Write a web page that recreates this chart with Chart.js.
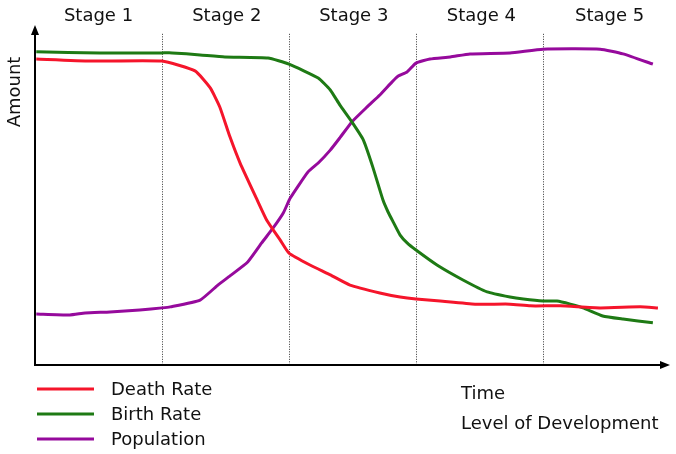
<!DOCTYPE html>
<html>
<head>
<meta charset="utf-8">
<script src="https://cdn.jsdelivr.net/npm/chart.js@4.4.1/dist/chart.umd.min.js"></script>
<style>
html,body{margin:0;padding:0;background:#fff;}
#wrap{width:676px;height:454px;position:relative;}
</style>
</head>
<body>
<div id="wrap"><canvas id="c" width="676" height="454"></canvas></div>
<script>
// Time axis (0-100), stage boundaries at 20/40/60/80
const stageLabels = ['Stage 1', 'Stage 2', 'Stage 3', 'Stage 4', 'Stage 5'];
const stageCenters = [10, 30.2, 50.2, 70.3, 90.5];
const stageBounds = [20, 40, 60, 80];

const deathTime = [0.2, 8.7, 20.0, 25.2, 27.6, 29.1, 30.7, 32.3, 35.0, 36.5, 38.6, 40.0, 43.3, 46.5, 49.6, 54.3, 57.5, 60.0, 63.8, 69.3, 74.8, 78.0, 82.7, 89.0, 95.3, 98.1];
const deathRate = [90.0, 89.4, 89.4, 86.5, 81.5, 75.9, 67.1, 59.4, 48.5, 42.6, 36.8, 32.9, 29.4, 26.5, 23.5, 21.2, 20.0, 19.4, 18.8, 17.9, 17.9, 17.4, 17.4, 16.8, 17.1, 16.8];

const birthTime = [0.2, 10.2, 20.0, 21.6, 26.0, 29.9, 36.7, 40.0, 44.6, 46.5, 48.0, 49.9, 51.7, 53.2, 54.8, 55.6, 56.4, 57.5, 58.6, 60.0, 63.3, 67.4, 71.2, 74.8, 76.9, 80.0, 82.2, 84.3, 86.3, 89.4, 92.6, 97.3];
const birthRate = [92.1, 91.8, 91.8, 91.8, 91.2, 90.6, 90.3, 88.5, 84.4, 80.9, 76.5, 71.5, 66.2, 58.2, 48.5, 45.0, 42.1, 38.2, 35.9, 33.8, 29.4, 25.0, 21.5, 20.0, 19.4, 18.8, 18.8, 17.9, 16.8, 14.4, 13.5, 12.4];

const popTime = [0.2, 5.5, 7.9, 11.8, 16.5, 20.0, 21.3, 26.0, 28.8, 30.7, 33.5, 35.7, 37.5, 39.1, 40.2, 43.0, 44.6, 46.5, 48.0, 49.9, 52.3, 54.3, 56.2, 57.2, 58.6, 60.0, 62.2, 65.4, 68.5, 74.8, 80.0, 89.0, 92.6, 97.3];
const population = [15.0, 14.7, 15.3, 15.6, 16.2, 16.8, 17.1, 19.1, 23.5, 26.2, 30.3, 35.9, 40.3, 44.7, 49.1, 56.8, 59.4, 63.2, 66.8, 71.5, 75.9, 79.4, 83.2, 85.0, 86.2, 88.8, 90.0, 90.6, 91.5, 91.8, 92.9, 92.9, 91.5, 88.5];

const seriesNames = ['Death Rate', 'Birth Rate', 'Population'];
const xTitleLines = ['Time', 'Level of Development'];
const yTitle = 'Amount';

const COLORS = ['#f5152b', '#1e7a14', '#960a9c'];
const FONT = '18px "DejaVu Sans", Verdana, sans-serif';

function pts(xs, ys) { return xs.map((x, i) => ({x: x, y: ys[i]})); }

const decor = {
  id: 'decor',
  beforeDatasetsDraw(chart) {
    const ctx = chart.ctx;
    const xs = chart.scales.x, ys = chart.scales.y;
    const bottom = ys.getPixelForValue(0);
    const topDot = ys.getPixelForValue(97.4);
    ctx.save();
    ctx.strokeStyle = '#333';
    ctx.lineWidth = 1;
    ctx.setLineDash([1, 1.5]);
    stageBounds.forEach(b => {
      const px = Math.round(xs.getPixelForValue(b)) + 0.5;
      ctx.beginPath();
      ctx.moveTo(px, topDot);
      ctx.lineTo(px, bottom);
      ctx.stroke();
    });
    ctx.restore();
  },
  afterDatasetsDraw(chart) {
    const ctx = chart.ctx;
    const xs = chart.scales.x, ys = chart.scales.y;
    const x0 = xs.getPixelForValue(0), x1 = xs.getPixelForValue(100);
    const y0 = ys.getPixelForValue(0), y1 = ys.getPixelForValue(100);
    ctx.save();
    // axes
    ctx.strokeStyle = '#000';
    ctx.fillStyle = '#000';
    ctx.lineWidth = 2;
    ctx.beginPath();
    ctx.moveTo(x0, y0);
    ctx.lineTo(x0, y1 + 6);
    ctx.moveTo(x0 - 1, y0);
    ctx.lineTo(x1 - 6, y0);
    ctx.stroke();
    // arrow heads
    ctx.beginPath();
    ctx.moveTo(x0, y1);
    ctx.lineTo(x0 - 4, y1 + 10);
    ctx.lineTo(x0 + 4, y1 + 10);
    ctx.closePath();
    ctx.fill();
    ctx.beginPath();
    ctx.moveTo(x1, y0);
    ctx.lineTo(x1 - 10, y0 - 4);
    ctx.lineTo(x1 - 10, y0 + 4);
    ctx.closePath();
    ctx.fill();

    // stage labels
    ctx.font = FONT;
    ctx.fillStyle = '#111';
    ctx.textAlign = 'center';
    ctx.textBaseline = 'middle';
    stageLabels.forEach((s, i) => {
      ctx.fillText(s, xs.getPixelForValue(stageCenters[i]), 16);
    });

    // y title
    ctx.save();
    ctx.translate(15, 92);
    ctx.rotate(-Math.PI / 2);
    ctx.fillText(yTitle, 0, 0);
    ctx.restore();

    // x title
    ctx.textAlign = 'left';
    ctx.fillText(xTitleLines[0], 461, 394);
    ctx.fillText(xTitleLines[1], 461, 424);

    // legend
    chart.data.datasets.forEach((d, i) => {
      const ly = 389 + i * 25;
      ctx.strokeStyle = d.borderColor;
      ctx.lineWidth = 3;
      ctx.setLineDash([]);
      ctx.beginPath();
      ctx.moveTo(37, ly);
      ctx.lineTo(94, ly);
      ctx.stroke();
      ctx.fillStyle = '#111';
      ctx.fillText(d.label, 111, ly + 1);
    });
    ctx.restore();
  }
};

new Chart(document.getElementById('c'), {
  type: 'line',
  data: {
    datasets: [
      {label: seriesNames[0], data: pts(deathTime, deathRate), borderColor: COLORS[0]},
      {label: seriesNames[1], data: pts(birthTime, birthRate), borderColor: COLORS[1]},
      {label: seriesNames[2], data: pts(popTime, population), borderColor: COLORS[2]}
    ]
  },
  options: {
    responsive: false,
    animation: false,
    devicePixelRatio: 1,
    layout: {padding: {left: 35, right: 6, top: 25, bottom: 89}},
    elements: {
      line: {borderWidth: 3, tension: 0.15, fill: false, borderCapStyle: 'butt'},
      point: {radius: 0}
    },
    scales: {
      x: {type: 'linear', min: 0, max: 100, display: false},
      y: {type: 'linear', min: 0, max: 100, display: false}
    },
    plugins: {legend: {display: false}, tooltip: {enabled: false}}
  },
  plugins: [decor]
});
</script>
</body>
</html>
